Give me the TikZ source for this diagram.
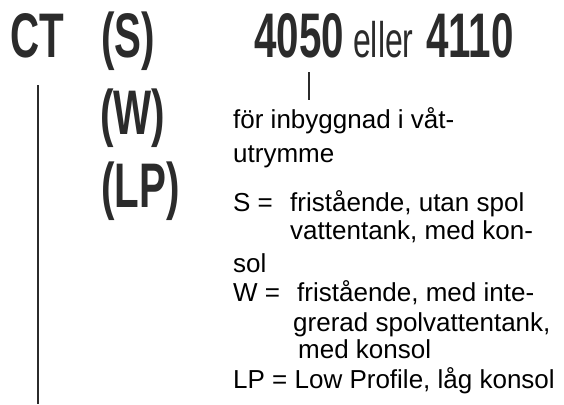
\documentclass[tikz,border=0pt]{standalone}
\usepackage{fontspec}
\setmainfont{Liberation Sans}
\newfontfamily\condb[FakeStretch=0.64]{Liberation Sans}
\newfontfamily\condr[FakeStretch=0.64]{Liberation Sans}
\definecolor{ink}{HTML}{2B2B2B}
\begin{document}
\begin{tikzpicture}[x=1pt,y=-1pt,
  big/.style={anchor=base west,inner sep=0pt,text=ink,font=\fontsize{63}{63}\selectfont\condb\bfseries},
  mid/.style={anchor=base west,inner sep=0pt,text=ink,font=\fontsize{50}{50}\selectfont\condr},
  small/.style={anchor=base west,inner sep=0pt,text=black,font=\fontsize{26}{26}\selectfont},
  rule/.style={draw=ink,line width=2pt}]
\useasboundingbox[fill=white] (0,0) rectangle (564,404);
% top row
\node[big] (ct) at (10,58) {CT};
\node[big] (s) at (101,58) {(S)};
\node[big] (n4050) at (254,58) {4050};
\node[mid] (eller) at (353,58) {eller};
\node[big] (n4110) at (426,58) {4110};
% option column
\node[big] (w) at (100,134) {(W)};
\node[big] (lp) at (101,207) {(LP)};
% explanations
\node[small] (l1) at (233,128) {för inbyggnad i våt-};
\node[small] (l2) at (233,162) {utrymme};
\node[small] (sk) at (233,211) {S =};
\node[small] (s1) at (290,211) {fristående, utan spol};
\node[small] (s2) at (290,239) {vattentank, med kon-};
\node[small] (s3) at (233,272) {sol};
\node[small] (wk) at (233,301) {W =};
\node[small] (w1) at (297,301) {fristående, med inte-};
\node[small] (w2) at (293,331) {grerad spolvattentank,};
\node[small] (w3) at (298,358) {med konsol};
\node[small] (lpk) at (233,388) {LP = Low Profile, låg konsol};
% connectors
\coordinate (vtop) at (38,85);
\coordinate (vbot) at (38,404);
\draw[rule] (vtop) -- (vbot);
\coordinate (ttop) at (309,72);
\coordinate (tbot) at (309,100);
\draw[rule] (ttop) -- (tbot);
\end{tikzpicture}
\end{document}
